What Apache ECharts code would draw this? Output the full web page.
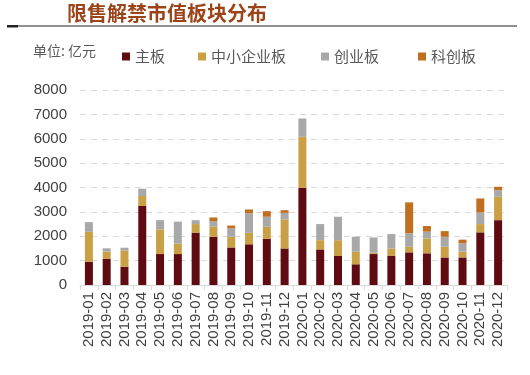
<!DOCTYPE html>
<html><head><meta charset="utf-8">
<script src="https://cdn.jsdelivr.net/npm/echarts@6/dist/echarts.min.js"></script>
<style>html,body{margin:0;padding:0;background:#fff}#c{width:530px;height:375px}</style>
</head><body><div id="c"></div>
<script>
var categories = ['2019-01','2019-02','2019-03','2019-04','2019-05','2019-06','2019-07','2019-08','2019-09','2019-10','2019-11','2019-12',
  '2020-01','2020-02','2020-03','2020-04','2020-05','2020-06','2020-07','2020-08','2020-09','2020-10','2020-11','2020-12'];
var mainBoard = [950,1070,750,3240,1270,1270,2150,1980,1540,1670,1900,1500,3990,1460,1190,850,1270,1190,1340,1300,1130,1130,2160,2660];
var smeBoard  = [1230,300,670,410,1010,430,350,410,440,470,490,1190,2090,380,650,515,60,310,230,610,440,235,340,960];
var gemBoard  = [400,135,110,300,380,900,160,230,340,800,410,270,750,660,960,615,620,590,550,280,410,345,480,270];
var starBoard = [0,0,0,0,0,0,0,150,120,160,230,110,0,0,0,0,0,0,1270,230,230,150,570,140];
var yTicks = [0,1000,2000,3000,4000,5000,6000,7000,8000];
var seriesNames = ['主板','中小企业板','创业板','科创板'];
var colors = ['#5E0B12','#C9A046','#A8A8A8','#BF6F1F'];

var chart = echarts.init(document.getElementById('c'), null, {renderer:'canvas'});
var vals = [mainBoard, smeBoard, gemBoard, starBoard];
var legendLeft = [117, 193, 316, 413];
var legends = seriesNames.map(function(n,i){
  return {data:[n], left:legendLeft[i], top:44, icon:'rect', itemWidth:8, itemHeight:8, itemGap:5,
    textStyle:{fontSize:15, color:'#595959', fontFamily:'Noto Sans CJK SC'}};
});
chart.setOption({
  animation:false,
  color: colors,
  legend: legends,
  graphic: [
    {type:'text', left:67, top:3, style:{text:'限售解禁市值板块分布', font:'bold 20px "Noto Sans CJK SC"', fill:'#9B4419'}},
    {type:'line', shape:{x1:7,y1:26,x2:517,y2:26}, style:{stroke:'#222', lineWidth:1}},
    {type:'rect', shape:{x:7,y:25,width:11,height:2.5}, style:{fill:'#222'}},
    {type:'text', left:33, top:44, style:{text:'单位: 亿元', font:'14px "Noto Sans CJK SC"', fill:'#595959'}}
  ],
  grid: {left:80, right:23, top:90, bottom:90},
  xAxis: {
    type:'category', data:categories,
    axisLine:{lineStyle:{color:'#D9D9D9'}},
    axisTick:{show:true, lineStyle:{color:'#D9D9D9'}},
    axisLabel:{rotate:90, interval:0, fontSize:15, color:'#404040', fontFamily:'Liberation Sans', margin:7}
  },
  yAxis: {
    type:'value', min:0, max:8000, interval:1000,
    axisLine:{show:false}, axisTick:{show:false},
    axisLabel:{fontSize:15, color:'#404040', fontFamily:'Liberation Sans', margin:13,
      formatter:function(v){return yTicks.indexOf(v)>=0? String(v):'';}},
    splitLine:{lineStyle:{color:'#D9D9D9', type:[6,5]}}
  },
  series: seriesNames.map(function(n,i){
    return {name:n, type:'bar', stack:'all', barWidth:8, data:vals[i], itemStyle:{color:colors[i]}};
  })
});
</script></body></html>
